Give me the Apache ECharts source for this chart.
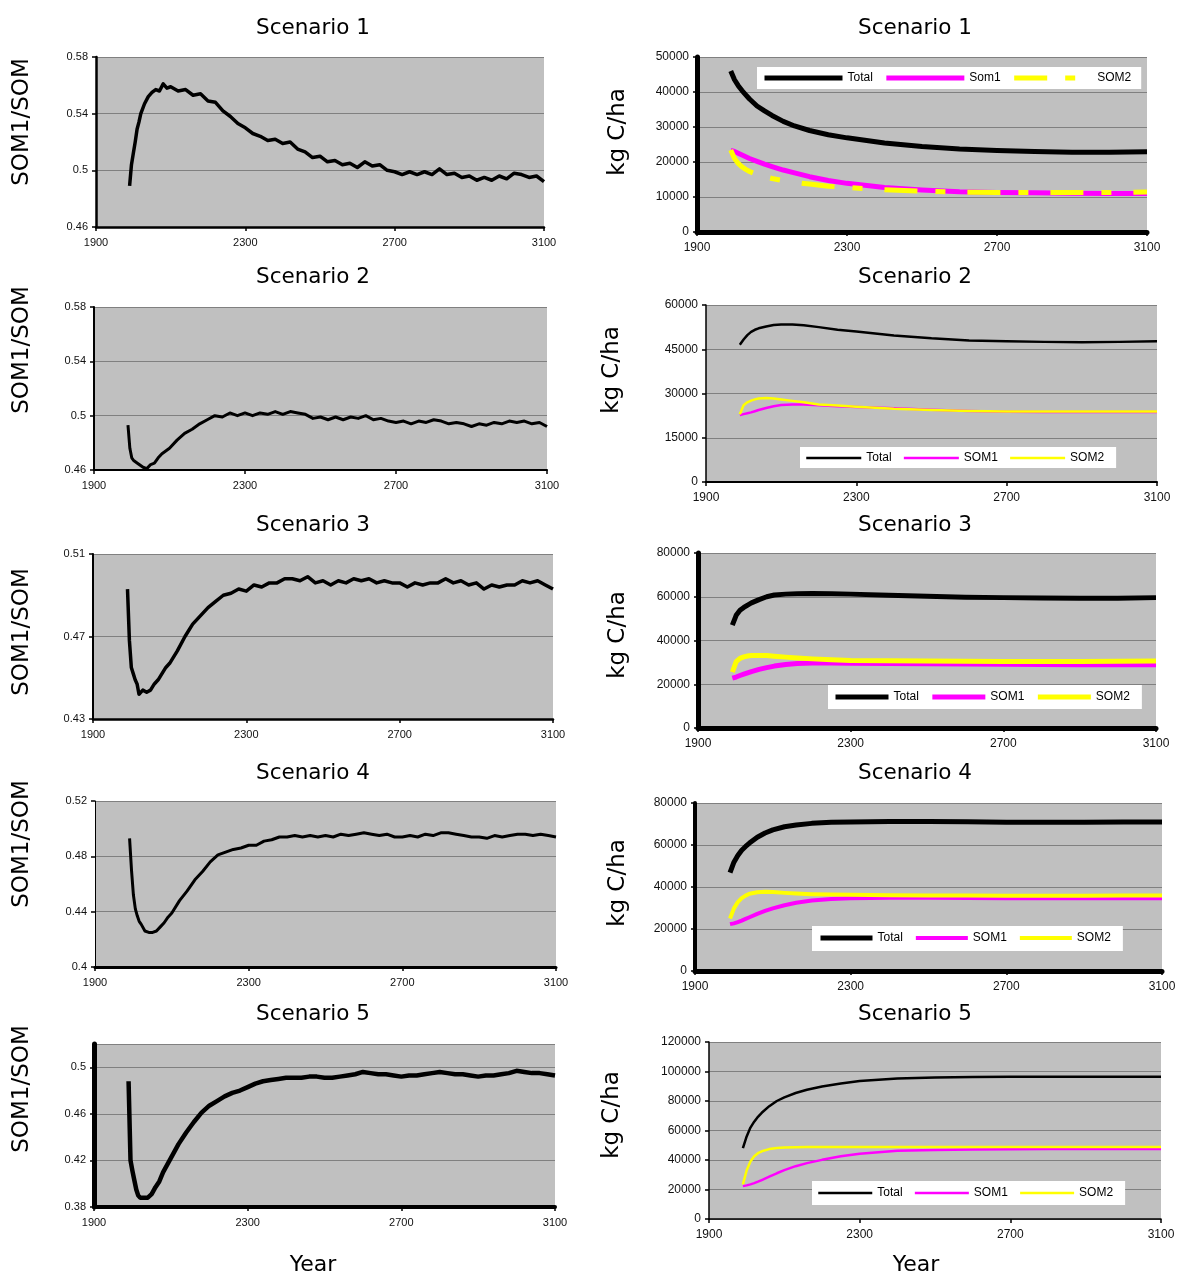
<!DOCTYPE html>
<html><head><meta charset="utf-8">
<script src="https://cdn.jsdelivr.net/npm/echarts@6/dist/echarts.min.js"></script>
<style>html,body{margin:0;padding:0;background:#fff}#c{width:1179px;height:1276px}</style>
</head><body><div id="c"></div>
<script>
// ---------------- DATA ----------------
const yearsL = [1990,1995,2000,2005,2010,2015,2020,2030,2040,2050,2060,2070,2080,2090,2100,
  2120,2140,2160,2180,2200,2220,2240,2260,2280,2300,2320,2340,2360,2380,2400,2420,2440,2460,2480,2500,
  2520,2540,2560,2580,2600,2620,2640,2660,2680,2700,2720,2740,2760,2780,2800,2820,2840,2860,2880,2900,
  2920,2940,2960,2980,3000,3020,3040,3060,3080,3100];

const ratioS1 = [0.489,0.504,0.512,0.520,0.529,0.534,0.540,0.547,0.552,0.555,0.557,0.556,0.561,0.558,0.559,
  0.556,0.557,0.553,0.554,0.549,0.548,0.542,0.538,0.533,0.530,0.526,0.524,0.521,0.522,0.519,0.520,0.515,0.513,0.509,0.510,
  0.506,0.507,0.504,0.505,0.502,0.506,0.503,0.504,0.500,0.499,0.497,0.499,0.497,0.499,0.497,0.501,0.497,0.498,0.495,0.496,
  0.493,0.495,0.493,0.496,0.494,0.498,0.497,0.495,0.496,0.492];
const ratioS2 = [0.493,0.476,0.469,0.467,0.467,0.465,0.466,0.462,0.461,0.464,0.465,0.469,0.472,0.474,0.476,
  0.482,0.487,0.490,0.494,0.497,0.500,0.499,0.502,0.500,0.502,0.500,0.502,0.501,0.503,0.501,0.503,0.502,0.501,0.498,0.499,
  0.497,0.499,0.497,0.499,0.498,0.500,0.497,0.498,0.496,0.495,0.496,0.494,0.496,0.495,0.497,0.496,0.494,0.495,0.494,0.492,
  0.494,0.493,0.495,0.494,0.496,0.495,0.496,0.494,0.495,0.492];
const ratioS3 = [0.493,0.468,0.455,0.452,0.449,0.447,0.442,0.444,0.443,0.444,0.447,0.449,0.452,0.455,0.457,
  0.463,0.470,0.476,0.480,0.484,0.487,0.490,0.491,0.493,0.492,0.495,0.494,0.496,0.496,0.498,0.498,0.497,0.499,0.496,0.497,
  0.495,0.497,0.496,0.498,0.497,0.498,0.496,0.497,0.496,0.496,0.494,0.496,0.495,0.496,0.496,0.498,0.496,0.497,0.495,0.496,
  0.493,0.495,0.494,0.495,0.495,0.497,0.496,0.497,0.495,0.493];
const ratioS4 = [0.493,0.470,0.452,0.442,0.437,0.433,0.431,0.426,0.425,0.425,0.426,0.429,0.432,0.436,0.439,
  0.448,0.455,0.463,0.469,0.476,0.481,0.483,0.485,0.486,0.488,0.488,0.491,0.492,0.494,0.494,0.495,0.494,0.495,0.494,0.495,
  0.494,0.496,0.495,0.496,0.497,0.496,0.495,0.496,0.494,0.494,0.495,0.494,0.496,0.495,0.497,0.497,0.496,0.495,0.494,0.494,
  0.493,0.495,0.494,0.495,0.496,0.496,0.495,0.496,0.495,0.494];
const ratioS5 = [0.488,0.420,0.411,0.403,0.395,0.390,0.388,0.388,0.388,0.391,0.397,0.402,0.410,0.416,0.422,
  0.434,0.444,0.453,0.461,0.467,0.471,0.475,0.478,0.480,0.483,0.486,0.488,0.489,0.490,0.491,0.491,0.491,0.492,0.492,0.491,
  0.491,0.492,0.493,0.494,0.496,0.495,0.494,0.494,0.493,0.492,0.493,0.493,0.494,0.495,0.496,0.495,0.494,0.494,0.493,0.492,
  0.493,0.493,0.494,0.495,0.497,0.496,0.495,0.495,0.494,0.493];

const yearsR = [1990,2000,2010,2020,2030,2040,2060,2080,2100,2130,2160,2200,2250,2300,2400,2500,2600,2700,2800,2900,3000,3100];

const totalS1 = [46000,43500,41800,40400,39200,38000,36000,34600,33300,31600,30300,29000,27800,26900,25400,24400,23700,23300,23000,22800,22800,22900];
const som1S1  = [23300,23000,22500,22000,21500,21000,20200,19400,18700,17700,16900,15800,14700,13900,12700,12000,11500,11300,11200,11100,11000,11000];
const som2S1  = [23400,21000,19600,18600,17900,17300,16400,15800,15300,14700,14200,13700,13100,12700,12100,11700,11400,11300,11300,11300,11300,11400];

const totalS2 = [46500,48300,49800,50900,51600,52100,52700,53200,53400,53400,53100,52500,51600,51000,49700,48700,48000,47700,47500,47400,47500,47700];
const som1S2  = [22700,23000,23300,23600,24000,24400,25100,25700,26100,26300,26300,26000,25700,25400,25000,24500,24100,23800,23700,23700,23700,23700];
const som2S2  = [23000,26000,27000,27600,28000,28300,28500,28300,28000,27500,27000,26300,25900,25500,24800,24400,24100,23900,23900,23900,23900,23900];

const totalS3 = [47000,51500,53800,55100,56200,57200,58700,60000,60800,61200,61400,61500,61400,61200,60700,60200,59800,59600,59400,59300,59300,59600];
const som1S3  = [22800,23300,24000,24600,25200,25800,26800,27600,28300,29000,29500,29700,29700,29600,29500,29400,29200,29100,29000,28900,28900,28900];
const som2S3  = [25500,30300,31800,32500,32900,33100,33200,33100,32800,32400,32000,31600,31200,30900,30700,30600,30500,30400,30400,30400,30500,30600];

const totalS4 = [46900,51800,55000,57500,59300,60900,63700,65700,67200,68700,69500,70300,70800,71000,71200,71200,71100,70800,70800,70800,70900,71000];
const som1S4  = [22300,22700,23300,24000,24800,25600,27200,28600,29800,31300,32500,33600,34300,34700,34900,34900,34800,34700,34700,34600,34600,34600];
const som2S4  = [25000,29800,32800,34700,35900,36800,37500,37700,37600,37200,36900,36600,36400,36300,36100,36000,35900,35800,35800,35800,35900,36000];

const totalS5 = [48000,56000,62000,66000,69300,72000,76500,80000,82500,85400,87600,89800,91900,93500,95200,96000,96300,96400,96500,96400,96500,96400];
const som1S5  = [22300,22800,23500,24300,25300,26400,28700,31000,33100,35800,37900,40100,42500,44300,46200,46700,47100,47300,47400,47400,47400,47400];
const som2S5  = [23500,33000,39000,42500,44600,45900,47400,48100,48500,48700,48800,48800,48800,48800,48800,48800,48800,48800,48800,48800,48800,48800];

const scenarioTitles = ['Scenario 1','Scenario 2','Scenario 3','Scenario 4','Scenario 5'];
const xTicks = {min:1900, max:3100, interval:400};
const ratioSeries = [ratioS1, ratioS2, ratioS3, ratioS4, ratioS5];
const carbonSeries = [
  [['Total', totalS1], ['Som1', som1S1], ['SOM2', som2S1]],
  [['Total', totalS2], ['SOM1', som1S2], ['SOM2', som2S2]],
  [['Total', totalS3], ['SOM1', som1S3], ['SOM2', som2S3]],
  [['Total', totalS4], ['SOM1', som1S4], ['SOM2', som2S4]],
  [['Total', totalS5], ['SOM1', som1S5], ['SOM2', som2S5]]
];
const ratioAxes = [
  {min:0.46, max:0.58, interval:0.04},
  {min:0.46, max:0.58, interval:0.04},
  {min:0.43, max:0.51, interval:0.04},
  {min:0.40, max:0.52, interval:0.04},
  {min:0.38, max:0.52, interval:0.04}
];
const carbonAxes = [
  {min:0, max:50000, interval:10000},
  {min:0, max:60000, interval:15000},
  {min:0, max:80000, interval:20000},
  {min:0, max:80000, interval:20000},
  {min:0, max:120000, interval:20000}
];

// ---------------- LAYOUT / STYLE ----------------
const leftLayout = [
  {left:96, top:57, width:448, height:170, yW:2.5, xW:2.5, lineW:3.5, nameY:122, titleY:28},
  {left:94, top:307, width:453, height:163, yW:2, xW:2, lineW:3, nameY:350, titleY:277},
  {left:93, top:554, width:460, height:165, yW:2, xW:2.5, lineW:3.5, nameY:632, titleY:525},
  {left:95, top:801, width:461, height:166, yW:1, xW:3, lineW:3, nameY:844, titleY:773},
  {left:94, top:1044, width:461, height:163, yW:5, xW:4, lineW:4.5, nameY:1089, titleY:1014, hideMax:true}
];
const rightLayout = [
  {left:697, top:57, width:450, height:175, yW:5, xW:5, lineW:[5,5,5], nameX:618, nameY:132, titleY:28,
   legend:{left:757, top:67, itemWidth:78, padding:[5,10,5,5]}},
  {left:706, top:305, width:451, height:177, yW:1.5, xW:2, lineW:[2.5,2.5,2.5], nameX:612, nameY:370, titleY:277,
   legend:{left:800, top:447, itemWidth:55, padding:[5,12,4,5]}},
  {left:698, top:553, width:458, height:175, yW:5, xW:5, lineW:[5,5,5], nameX:618, nameY:635, titleY:525,
   legend:{left:828, top:685, itemWidth:53, padding:[6,12,6,5]}},
  {left:695, top:803, width:467, height:168, yW:4, xW:5, lineW:[5,4,4], nameX:618, nameY:883, titleY:773,
   legend:{left:812, top:926, itemWidth:52, padding:[6,12,7,6]}},
  {left:709, top:1042, width:452, height:177, yW:1.5, xW:1.5, lineW:[2.5,2.5,2.5], nameX:612, nameY:1115, titleY:1014,
   legend:{left:812, top:1181, itemWidth:54, padding:[6,12,6,5]}}
];
const colors = ['#000000', '#ff00ff', '#ffff00'];
const tickFont = 'Liberation Sans, Arial, sans-serif';
const bigFont = 'DejaVu Sans, sans-serif';

const grids = [], xAxes = [], yAxes = [], series = [], legends = [], graphics = [];

function addAxes(L, yCfg, fontSize, fmtY) {
  const idx = grids.length;
  grids.push({left:L.left, top:L.top, width:L.width, height:L.height, show:true,
    backgroundColor:'#c0c0c0', borderWidth:0, containLabel:false});
  xAxes.push({type:'value', gridIndex:idx, min:xTicks.min, max:xTicks.max, interval:xTicks.interval,
    axisLine:{show:true, lineStyle:{color:'#000', width:L.xW}},
    axisTick:{show:true, length:4, lineStyle:{color:'#000', width:1.5}},
    splitLine:{show:false},
    axisLabel:{fontFamily:tickFont, fontSize:fontSize, color:'#111', margin:10, formatter:v => String(v)}});
  yAxes.push({type:'value', gridIndex:idx, min:yCfg.min, max:yCfg.max, interval:yCfg.interval,
    axisLine:{show:true, onZero:false, lineStyle:{color:'#000', width:L.yW}},
    axisTick:{show:true, length:4, lineStyle:{color:'#000', width:1.5}},
    splitLine:{show:true, lineStyle:{color:'#808080', width:1}},
    axisLabel:{fontFamily:tickFont, fontSize:fontSize, color:'#111', margin:8, formatter:fmtY,
      showMaxLabel: L.hideMax ? false : true}});
  return idx;
}

function addText(text, x, y, size, rot) {
  graphics.push({type:'text', x:x, y:y, rotation:rot || 0, z:100,
    style:{text:text, fill:'#000', font: size + 'px ' + bigFont, textAlign:'center', textVerticalAlign:'middle'}});
}

// left panels: SOM1/SOM ratio
leftLayout.forEach((L, i) => {
  const idx = addAxes(L, ratioAxes[i], 11, v => String(Number(v.toFixed(2))));
  series.push({type:'line', name:'ratio' + i, xAxisIndex:idx, yAxisIndex:idx, symbol:'none', showSymbol:false,
    lineStyle:{color:'#000', width:L.lineW, join:'round'}, itemStyle:{color:'#000'},
    data: yearsL.map((yr, k) => [yr, ratioSeries[i][k]])});
  addText(scenarioTitles[i], 313, L.titleY, 21.5);
  addText('SOM1/SOM', 22, L.nameY, 23, Math.PI / 2);
});

// right panels: carbon stocks
rightLayout.forEach((L, i) => {
  const idx = addAxes(L, carbonAxes[i], 12, v => String(v));
  const legendItems = [];
  carbonSeries[i].forEach(([nm, vals], j) => {
    const sname = nm + '|' + i;
    const ls = {color:colors[j], width:L.lineW[j], join:'round'};
    if (i === 0 && j === 2) ls.type = [33, 18, 10, 22];
    legendItems.push({name:sname, lineStyle:{width:L.lineW[j]}});
    series.push({type:'line', name:sname, xAxisIndex:idx, yAxisIndex:idx, symbol:'none', showSymbol:false,
      lineStyle:ls, itemStyle:{color:colors[j]},
      data: yearsR.map((yr, k) => [yr, vals[k]])});
  });
  legends.push(Object.assign({
    data:legendItems, orient:'horizontal', backgroundColor:'#fff', itemHeight:14, itemGap:11,
    selectedMode:false, itemStyle:{opacity:0},
    textStyle:{fontFamily:tickFont, fontSize:12, color:'#000'},
    formatter: n => n.split('|')[0]
  }, L.legend));
  addText(scenarioTitles[i], 915, L.titleY, 21.5);
  addText('kg C/ha', L.nameX, L.nameY, 23, Math.PI / 2);
});

addText('Year', 313, 1265, 22);
addText('Year', 916, 1265, 22);

const chart = echarts.init(document.getElementById('c'));
chart.setOption({
  backgroundColor:'#ffffff',
  animation:false,
  grid:grids, xAxis:xAxes, yAxis:yAxes, series:series, legend:legends,
  graphic:{elements:graphics}
});
</script>
</body></html>
